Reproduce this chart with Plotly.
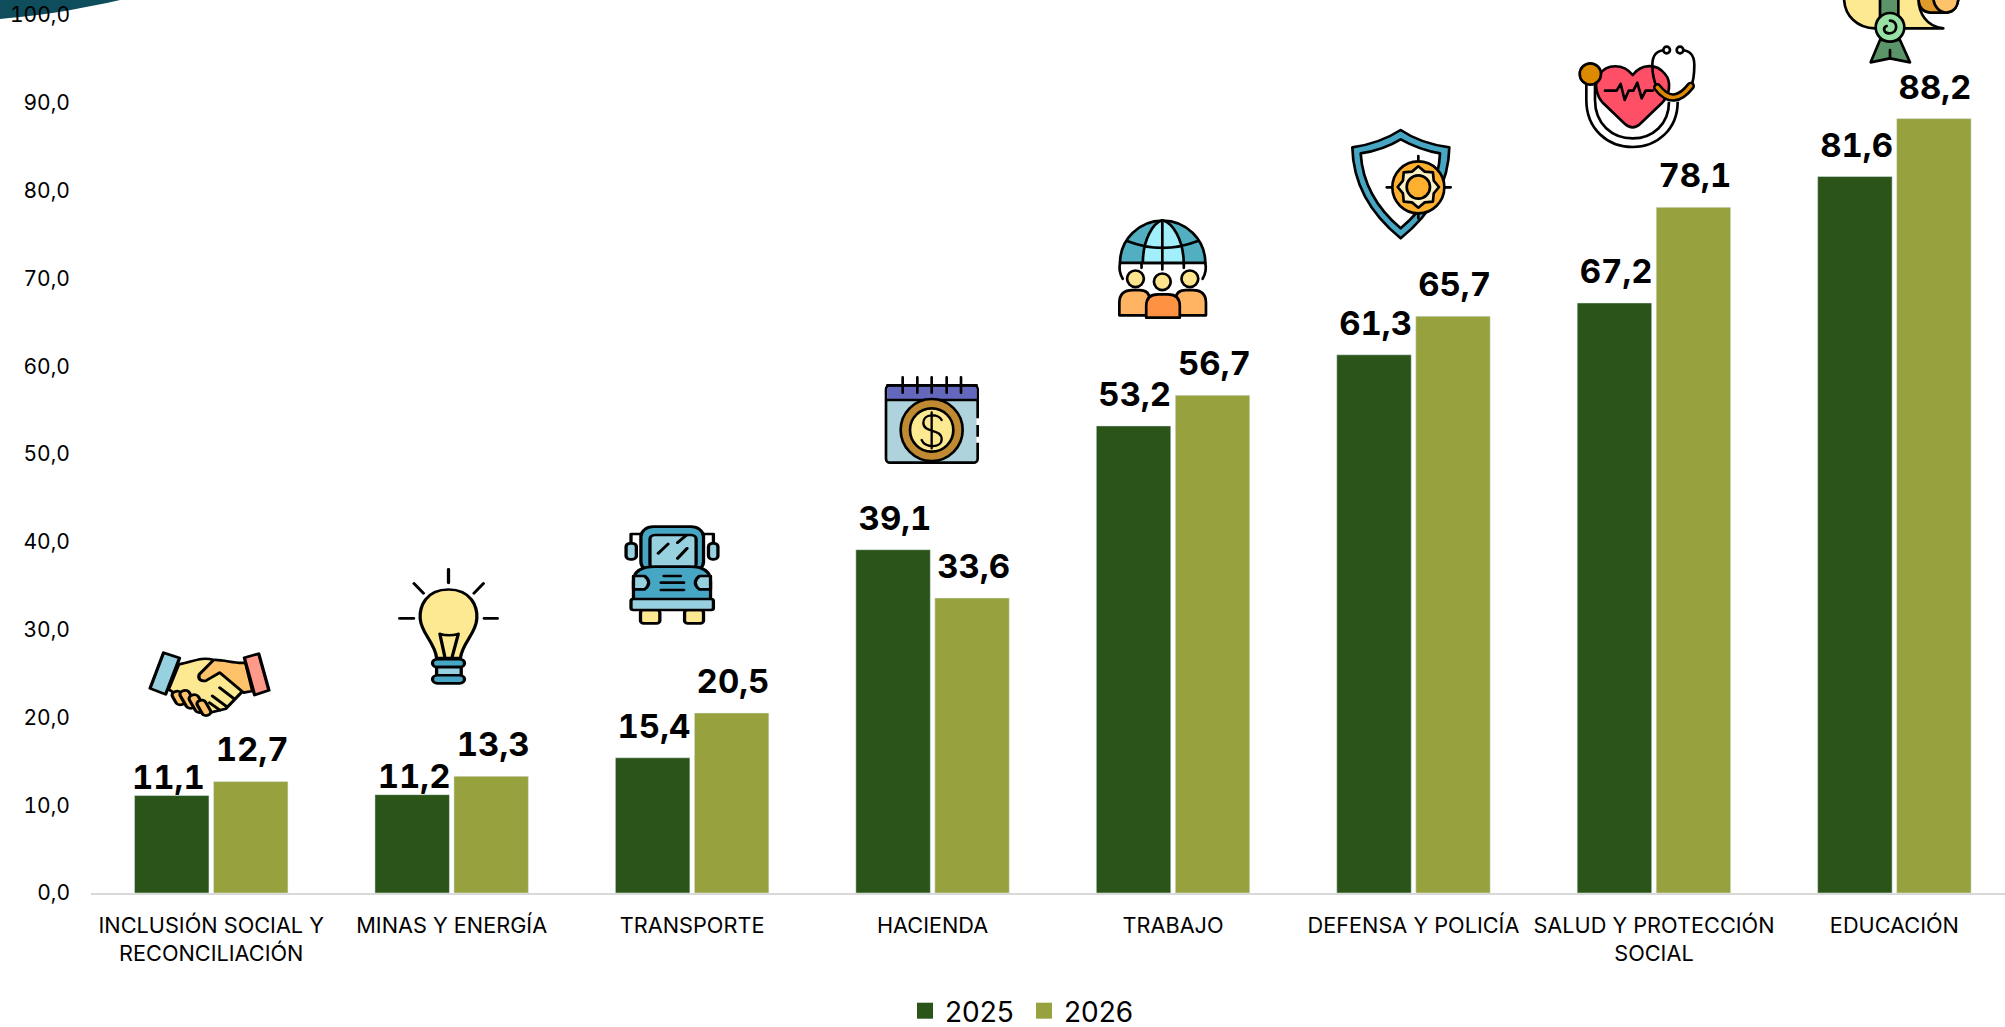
import base64, math
import plotly.graph_objects as go

categories = ["INCLUSIÓN SOCIAL Y<br>RECONCILIACIÓN", "MINAS Y ENERGÍA", "TRANSPORTE", "HACIENDA",
              "TRABAJO", "DEFENSA Y POLICÍA", "SALUD Y PROTECCIÓN<br>SOCIAL", "EDUCACIÓN"]
values_2025 = [11.1, 11.2, 15.4, 39.1, 53.2, 61.3, 67.2, 81.6]
values_2026 = [12.7, 13.3, 20.5, 33.6, 56.7, 65.7, 78.1, 88.2]
series_names = ["2025", "2026"]

GREEN = "#2a5418"
OLIVE = "#97a23f"
FONT = "Inter"
W, H = 2005, 1027
ML, MT, MB = 91, 15, 134
PW, PH = W - ML, H - MT - MB

S = 'stroke="#000" stroke-width="8" stroke-linecap="round" stroke-linejoin="round"'
BL, LB, YE, OR = "#47a6c4", "#97d0de", "#fde992", "#fdc26a"

star_pts = []
for i in range(16):
    r = 62 if i % 2 == 0 else 50
    a = i * math.pi / 8
    star_pts.append(f"{295 + r * math.cos(a):.1f},{231 + r * math.sin(a):.1f}")
star = " ".join(star_pts)

icons = [
 # handshake
 ((148, 650, 271, 718), (65, 452, 365, 656), f'''
 <g {S}>
 <path d="M140 495 C170 490 195 470 225 482 L300 570 L255 628 L215 640 L140 590 L115 570 Z" fill="{YE}"/>
 <path d="M225 482 C250 480 280 495 303 490 L320 575 L298 580 L240 520 L205 545 Q185 545 190 525 Z" fill="{OR}"/>
 <path d="M240 565 L275 598 M222 590 L255 620 M215 610 L240 632" fill="none"/>
 <path d="M103 460 L142 476 L108 585 L70 567 Z" fill="{LB}"/>
 <path d="M300 475 L335 463 L360 573 L325 587 Z" fill="#ff9a8a"/>
 <rect x="128" y="575" width="24" height="42" rx="11" fill="{OR}" transform="rotate(-25 140 596)"/>
 <rect x="150" y="572" width="24" height="56" rx="11" fill="{OR}" transform="rotate(-25 162 600)"/>
 <rect x="172" y="585" width="24" height="56" rx="11" fill="{OR}" transform="rotate(-25 184 612)"/>
 <rect x="190" y="602" width="22" height="48" rx="10" fill="{OR}" transform="rotate(-25 200 625)"/>
 </g>'''),
 # bulb
 ((398, 568, 499, 685), (668, 204, 914, 552), f'''
 <g {S}>
 <path d="M791 268 C735 268 720 320 722 355 C725 400 758 425 762 472 H820 C825 425 858 400 860 355 C862 320 847 268 791 268Z" fill="{YE}"/>
 <path d="M770 400 L782 468 M815 400 L800 468 M770 400 Q792 408 815 400" fill="none"/>
 <rect x="752" y="475" width="78" height="24" rx="12" fill="{BL}"/>
 <rect x="762" y="499" width="60" height="24" fill="{LB}"/>
 <rect x="752" y="523" width="78" height="24" rx="12" fill="{BL}"/>
 <path d="M791 208 V248 M707 250 L730 279 M876 250 L853 279 M672 354 H706 M878 354 H910" fill="none"/>
 </g>'''),
 # bus
 ((624, 525, 720, 625), (1215, 75, 1448, 375), f'''
 <g {S}>
 <path d="M1232 130 V102 H1256 M1432 130 V102 H1408" fill="none"/>
 <rect x="1220" y="130" width="25" height="48" rx="10" fill="{LB}"/>
 <rect x="1420" y="130" width="23" height="48" rx="10" fill="{LB}"/>
 <rect x="1256" y="80" width="152" height="135" rx="30" fill="{BL}"/>
 <rect x="1278" y="105" width="112" height="100" rx="12" fill="{LB}"/>
 <path d="M1298 160 L1322 132 M1345 128 L1366 106 M1345 175 L1368 145" fill="none"/>
 <rect x="1255" y="330" width="47" height="40" rx="8" fill="{YE}"/>
 <rect x="1362" y="330" width="46" height="40" rx="8" fill="{YE}"/>
 <path d="M1238 300 V245 Q1238 200 1290 200 H1375 Q1425 200 1425 245 V300Z" fill="{BL}"/>
 <path d="M1238 228 H1265 Q1285 248 1265 268 H1238Z" fill="{LB}"/>
 <path d="M1425 228 H1398 Q1378 248 1398 268 H1425Z" fill="{LB}"/>
 <path d="M1312 228 H1352 M1305 248 H1360 M1305 270 H1360" fill="none"/>
 <rect x="1232" y="297" width="200" height="33" rx="6" fill="{LB}"/>
 </g>'''),
 # calendar
 ((880, 375, 984, 466), (60, 525, 372, 798), f'''
 <g {S}>
 <rect x="78" y="556" width="275" height="232" rx="12" fill="#aed3dd"/>
 <path d="M82 600 V568 Q82 560 92 560 H340 Q350 560 350 568 V600 Z" fill="#6468bd" stroke="none"/>
 <path d="M82 600 H350 M82 556 H350" fill="none"/>
 <path d="M128 532 V578 M172 532 V578 M215 532 V578 M260 532 V578 M303 532 V578" fill="none"/>
 <circle cx="215" cy="690" r="93" fill="#c08a32"/>
 <circle cx="215" cy="690" r="65" fill="{YE}"/>
 <path d="M245 660 C235 640 190 640 190 668 C190 700 245 685 245 718 C245 745 195 745 185 720 M215 637 V745" fill="none" stroke-width="7"/>
 </g>
 <path d="M353 655 V675 M353 710 V728" stroke="#fff" stroke-width="9"/>'''),
 # globe and people
 ((1116, 217, 1210, 322), (770, 52, 1050, 368), f'''
 <g {S}>
 <path d="M782 190 A 127 127 0 0 1 1036 190 Z" fill="#52afc2"/>
 <path d="M850 190 C850 120 880 70 908 62 C940 70 970 120 972 190Z" fill="#a2effc"/>
 <path d="M805 125 Q 908 165 1012 125 M908 62 V210 M846 190 V205 M972 190 V205" fill="none"/>
 <path d="M782 190 C778 210 782 225 790 238 M1036 190 C1040 210 1036 225 1028 238" fill="none"/>
 <circle cx="828" cy="238" r="25" fill="#fde58f"/>
 <circle cx="990" cy="238" r="25" fill="#fde58f"/>
 <circle cx="908" cy="247" r="25" fill="#fde58f"/>
 <path d="M780 348 V310 Q780 272 820 272 H840 Q870 272 870 300 V348 Z" fill="#ffb463"/>
 <path d="M1038 348 V310 Q1038 272 998 272 H978 Q948 272 948 300 V348 Z" fill="#ffb463"/>
 <path d="M860 355 V320 Q860 285 895 285 H925 Q960 285 960 320 V355 Z" fill="#ff9142"/>
 </g>'''),
 # shield
 ((1349, 125, 1455, 243), (87, 45, 405, 399), f'''
 <g {S}>
 <path d="M242 60 Q 300 100 388 112 Q 385 270 242 385 Q 100 270 97 112 Q 180 100 242 60Z" fill="{BL}"/>
 <path d="M242 88 Q 300 120 360 130 Q 355 260 242 355 Q 130 260 122 130 Q 190 120 242 88Z" fill="#fff"/>
 <path d="M295 138 V155 M295 310 V325 M200 232 H218 M375 232 H392" fill="none"/>
 <circle cx="295" cy="232" r="78" fill="#ffb02e"/>
 <polygon points="{star}" fill="#fdf0c6"/>
 <circle cx="295" cy="231" r="35" fill="#ffb02e"/>
 </g>'''),
 # heart and stethoscope
 ((1576, 43, 1697, 150), (228, 129, 591, 450), f'''
 <path d="M272 255 V300 C272 380 330 428 398 428 C465 428 520 380 520 305" fill="none" stroke="#000" stroke-width="34"/>
 <path d="M272 255 V300 C272 380 330 428 398 428 C465 428 520 380 520 305" fill="none" stroke="#fff" stroke-width="18"/>
 <g {S}>
 <path d="M398 225 C370 190 320 190 297 225 C280 250 290 290 310 310 L375 372 Q398 392 420 372 L485 310 C510 285 515 245 495 222 C470 190 425 190 398 225 Z" fill="#ff4f67"/>
 <polyline points="315,272 350,272 362,252 374,300 386,272 400,272 412,248 425,295 437,272 458,272" fill="none"/>
 <circle cx="271" cy="222" r="32" fill="#dd8a00"/>
 <path d="M500 150 C465 150 457 170 457 195 C457 225 465 250 470 262 M540 150 C575 150 583 170 583 195 C583 225 578 250 572 262" fill="none"/>
 <circle cx="500" cy="150" r="10" fill="#fff"/>
 <circle cx="540" cy="150" r="10" fill="#fff"/>
 </g>
 <path d="M472 262 Q520 325 572 258" fill="none" stroke="#000" stroke-width="26" stroke-linecap="round"/>
 <path d="M472 262 Q520 325 572 258" fill="none" stroke="#dd8a00" stroke-width="11" stroke-linecap="round"/>'''),
 # diploma
 ((1840, 0, 1963, 67), (1020, 0, 1389, 201), f'''
 <g {S}>
 <path d="M1255 -8 C1255 15 1262 35 1290 38 L1340 38 C1365 35 1375 15 1375 -8Z" fill="#e09a2c"/>
 <path d="M1300 -8 C1300 20 1320 38 1340 38 C1365 35 1375 15 1375 -8Z" fill="{OR}"/>
 <path d="M1032 -8 C1032 50 1075 85 1125 85 L1330 85 C1280 80 1255 40 1255 -8 Z" fill="{YE}"/>
 <rect x="1140" y="-10" width="55" height="60" fill="#5a9468"/>
 <path d="M1140 120 L1112 187 L1170 175 L1230 187 L1200 120Z" fill="#5a9468"/>
 <path d="M1170 150 V175" fill="none"/>
 <circle cx="1170" cy="82" r="43" fill="#97e0a4"/>
 <path d="M1170 62 C1195 62 1195 100 1168 100 C1150 100 1148 82 1160 78" fill="none"/>
 </g>'''),
 # corner swoosh
 ((0, 0, 125, 25), (0, 0, 125, 25), '''
 <path d="M0 0 H120 C85 8 50 14 20 17 C12 18 6 18 0 19 Z" fill="#0f4c5c"/>'''),
]


def uri(box, vb, body):
    vx0, vy0, vx1, vy1 = vb
    svg = (f'<svg xmlns="http://www.w3.org/2000/svg" width="{box[2]-box[0]}" height="{box[3]-box[1]}" '
           f'viewBox="{vx0} {vy0} {vx1-vx0} {vy1-vy0}" preserveAspectRatio="none">{body}</svg>')
    return "data:image/svg+xml;base64," + base64.b64encode(svg.encode()).decode()


images = []
for box, vb, body in icons:
    images.append(dict(
        source=uri(box, vb, body), xref="paper", yref="paper",
        x=(box[0] - ML) / PW, y=1 - (box[1] - MT) / PH,
        sizex=(box[2] - box[0]) / PW, sizey=(box[3] - box[1]) / PH,
        xanchor="left", yanchor="top", sizing="stretch", layer="below",
    ))

fig = go.Figure()
fig.add_bar(x=categories, y=values_2025, name=series_names[0], marker_color=GREEN, showlegend=False, cliponaxis=False)
fig.add_bar(x=categories, y=values_2026, name=series_names[1], marker_color=OLIVE, showlegend=False, cliponaxis=False)
for name, col in zip(series_names, [GREEN, OLIVE]):
    fig.add_scatter(x=[None], y=[None], name=name, mode="markers",
                    marker=dict(symbol="square", size=16, color=col))

annotations = []
BAR_OFF = 39.5
for vals, off in ((values_2025, -BAR_OFF), (values_2026, BAR_OFF)):
    for c, v in zip(categories, vals):
        annotations.append(dict(
            x=c, y=v, xref="x", yref="y", text=f"{v:.1f}".replace(".", ","), showarrow=False,
            xshift=off + (-3 if v in (11.1,) else 1.5), yshift=19 if v < 11.5 else 32,
            xanchor="center", yanchor="middle",
            font=dict(family=FONT, size=33, color="#000", weight=700),
        ))

fig.update_layout(
    width=W, height=H, autosize=False,
    margin=dict(l=ML, r=0, t=MT, b=MB, pad=0),
    paper_bgcolor="#fff", plot_bgcolor="rgba(0,0,0,0)",
    barmode="group", bargap=0.343, bargroupgap=0.057,
    separators=",.",
    font=dict(family=FONT, color="#000"),
    images=images, annotations=annotations,
    xaxis=dict(type="category", categoryorder="array", categoryarray=categories,
               range=[-0.5, 7.46], showgrid=False, zeroline=False,
               showline=True, linecolor="#d9d9d9", linewidth=2,
               ticks="", tickangle=0, tickfont=dict(family=FONT, size=21.7, color="#000"),
               ticklabelstandoff=12, automargin=False),
    yaxis=dict(range=[0, 100], tick0=0, dtick=10, tickformat=".1f", showgrid=False, zeroline=False,
               showline=False, ticks="", tickfont=dict(family=FONT, size=21, color="#000"),
               ticklabelstandoff=20, automargin=False),
    legend=dict(orientation="h", xref="container", yref="container",
                x=905 / W, xanchor="left", y=(H - 986) / H, yanchor="top",
                entrywidth=74, entrywidthmode="pixels",
                font=dict(family=FONT, size=28, color="#000"), bgcolor="rgba(0,0,0,0)",
                itemclick=False, itemdoubleclick=False),
    hovermode=False,
)

post = """
document.body.style.margin='0';document.body.style.overflow='hidden';
var st=document.createElement('style');
st.textContent='.annotation-text,.ytick text{font-feature-settings:"tnum" 1;}';
document.head.appendChild(st);
"""
fig.write_html("out.html", config={"displayModeBar": False}, post_script=post)
